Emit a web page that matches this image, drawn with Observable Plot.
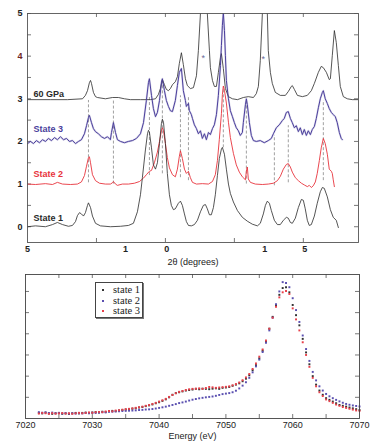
<!DOCTYPE html>
<html>
<head>
<meta charset="utf-8">
<script src="https://cdn.jsdelivr.net/npm/d3@7"></script>
<script src="https://cdn.jsdelivr.net/npm/@observablehq/plot@0.6"></script>
<style>
  html, body { margin: 0; padding: 0; background: #fff; }
  #wrap { position: relative; width: 374px; height: 444px; overflow: hidden; }
  #wrap svg { display: block; }
  #legend { position: absolute; left: 95px; top: 282px; width: 46px; height: 34px;
    border: 1px solid #444; box-shadow: 1px 1px 0 #777; background: #fff;
    font-family: "Liberation Serif", "DejaVu Serif", serif; font-size: 10.5px; line-height: 10.5px; color: #222; }
  #legend .row { position: relative; padding-left: 17px; height: 10.5px; }
  #legend .row:first-child { margin-top: 2px; }
  #legend .sym { position: absolute; left: 6px; top: 4px; width: 2px; height: 2px; }
</style>
</head>
<body>
<div id="wrap"></div>
<script>
// ---------- TOP PANEL: X-ray diffraction (2θ in degrees, offset intensities) ----------
const xTicksTop = [10, 15, 20, 25];
const xTickLabels = [5, 12.1, 15.1, 22.2, 25.1];
const xTickTexts = ["5", "1", "0", "1", "5"];
const yTicksTop = [0, 0.5, 1, 1.5, 2, 2.5, 3, 3.5, 4, 4.5, 5];
const yLabelsTop = [0, 1, 2, 3, 5];
const yLabelRed = [4];

const state1 = [[5.00,0.00],[5.58,0.02],[6.30,0.00],[6.81,0.05],[7.17,0.10],[7.54,0.05],[7.97,0.01],[8.26,0.03],[8.48,0.12],[8.62,0.26],[8.77,0.33],[8.91,0.30],[9.06,0.25],[9.20,0.33],[9.35,0.50],[9.42,0.56],[9.57,0.45],[9.71,0.25],[9.93,0.08],[10.29,0.02],[11.01,0.00],[11.74,0.01],[12.32,0.03],[12.68,0.08],[12.97,0.35],[13.19,0.75],[13.33,1.15],[13.55,1.80],[13.70,2.18],[13.77,2.26],[13.84,2.22],[13.99,1.85],[14.13,1.45],[14.28,1.35],[14.42,1.50],[14.57,1.95],[14.71,2.42],[14.78,2.52],[14.86,2.45],[15.00,1.95],[15.14,1.25],[15.29,0.75],[15.43,0.50],[15.58,0.40],[15.72,0.42],[15.94,0.55],[16.09,0.60],[16.23,0.50],[16.38,0.30],[16.52,0.12],[16.67,0.03],[16.88,0.02],[17.10,0.05],[17.32,0.15],[17.54,0.35],[17.75,0.50],[17.90,0.52],[18.04,0.42],[18.19,0.28],[18.33,0.28],[18.48,0.45],[18.62,0.75],[18.77,1.20],[18.91,1.60],[19.06,1.82],[19.13,1.86],[19.28,1.70],[19.42,1.35],[19.57,1.00],[19.71,0.78],[19.93,0.58],[20.22,0.38],[20.58,0.22],[20.94,0.13],[21.30,0.06],[21.67,0.02],[21.88,0.08],[22.10,0.30],[22.25,0.50],[22.39,0.60],[22.54,0.55],[22.68,0.38],[22.90,0.15],[23.12,0.05],[23.33,0.05],[23.55,0.15],[23.77,0.22],[23.91,0.20],[24.06,0.10],[24.20,0.08],[24.42,0.20],[24.64,0.45],[24.86,0.64],[25.00,0.62],[25.14,0.42],[25.29,0.15],[25.43,0.03],[25.58,0.05],[25.80,0.25],[26.01,0.55],[26.23,0.82],[26.38,0.92],[26.52,0.90],[26.74,0.70],[26.96,0.40],[27.17,0.22],[27.39,0.15],[27.54,-0.02]];

const state2 = [[5.00,1.00],[5.58,0.99],[6.30,1.01],[6.81,0.99],[7.17,1.04],[7.54,1.00],[8.12,0.99],[8.62,1.00],[8.91,1.05],[9.13,1.20],[9.28,1.42],[9.42,1.62],[9.49,1.64],[9.57,1.50],[9.71,1.22],[9.93,1.08],[10.22,1.02],[10.65,1.00],[11.01,1.00],[11.16,1.03],[11.23,1.06],[11.38,1.00],[11.52,0.97],[11.88,1.00],[12.32,1.00],[12.75,1.02],[13.12,1.06],[13.41,1.14],[13.62,1.22],[13.84,1.30],[13.99,1.32],[14.20,1.50],[14.42,1.75],[14.57,2.00],[14.71,2.25],[14.78,2.32],[14.86,2.25],[15.00,1.95],[15.14,1.62],[15.29,1.38],[15.51,1.22],[15.72,1.17],[15.87,1.35],[16.01,1.65],[16.09,1.78],[16.23,1.60],[16.38,1.35],[16.52,1.25],[16.67,1.30],[16.81,1.15],[16.96,1.04],[17.25,1.00],[17.68,1.01],[18.12,1.00],[18.41,1.06],[18.62,1.22],[18.77,1.55],[18.91,2.05],[19.06,2.65],[19.13,3.10],[19.20,3.30],[19.28,3.20],[19.42,2.90],[19.57,2.45],[19.71,2.09],[19.93,1.72],[20.14,1.45],[20.36,1.28],[20.58,1.17],[20.80,1.10],[20.87,1.30],[20.94,1.40],[21.01,1.12],[21.16,1.04],[21.52,1.00],[22.03,0.99],[22.46,1.00],[22.83,1.02],[23.12,1.08],[23.33,1.18],[23.55,1.35],[23.77,1.46],[23.91,1.48],[24.06,1.40],[24.20,1.28],[24.42,1.15],[24.64,1.08],[24.86,1.02],[25.07,0.98],[25.29,0.94],[25.43,0.97],[25.58,0.92],[25.72,0.96],[25.87,1.05],[26.01,1.25],[26.16,1.55],[26.30,1.85],[26.45,2.07],[26.59,1.95],[26.74,1.70],[26.88,1.35],[27.03,1.30],[27.10,1.25],[27.17,1.10],[27.25,0.94]];

const state3 = [[5.00,1.95],[5.22,2.00],[5.43,1.95],[5.65,2.02],[5.87,1.97],[6.09,2.04],[6.30,2.00],[6.52,2.07],[6.74,2.02],[6.96,2.09],[7.17,2.04],[7.39,2.11],[7.61,2.04],[7.83,2.07],[8.04,2.00],[8.26,2.02],[8.48,1.95],[8.70,2.00],[8.91,2.04],[9.13,2.18],[9.28,2.37],[9.42,2.56],[9.49,2.61],[9.64,2.44],[9.78,2.30],[9.93,2.23],[10.14,2.18],[10.36,2.11],[10.58,2.07],[10.80,2.11],[11.01,2.04],[11.09,2.21],[11.23,2.44],[11.38,2.21],[11.52,2.04],[11.74,2.00],[12.03,1.97],[12.32,2.00],[12.61,2.02],[12.90,2.07],[13.19,2.18],[13.41,2.44],[13.62,2.96],[13.77,3.38],[13.84,3.47],[13.99,3.08],[14.13,2.77],[14.28,2.58],[14.42,2.68],[14.57,2.96],[14.71,3.38],[14.78,3.47],[14.93,3.19],[15.07,2.96],[15.22,2.82],[15.36,2.72],[15.51,2.70],[15.72,2.96],[15.87,3.31],[16.01,3.62],[16.16,3.71],[16.30,3.19],[16.45,2.96],[16.52,2.82],[16.67,2.89],[16.74,2.72],[16.88,2.63],[16.96,2.54],[17.10,2.39],[17.25,2.30],[17.39,2.18],[17.54,2.25],[17.68,2.07],[17.83,2.18],[17.97,2.04],[18.12,2.21],[18.26,2.16],[18.41,2.30],[18.55,2.39],[18.70,2.63],[18.84,3.08],[18.99,3.78],[19.06,4.25],[19.13,4.72],[19.20,5.02],[19.28,4.60],[19.35,4.01],[19.42,3.43],[19.57,3.00],[19.71,2.72],[19.86,2.58],[20.00,2.44],[20.14,2.32],[20.29,2.25],[20.43,2.14],[20.58,2.21],[20.65,2.44],[20.80,2.86],[20.87,3.00],[20.94,2.86],[21.09,2.44],[21.23,2.14],[21.38,2.02],[21.59,2.00],[21.88,2.02],[22.17,1.97],[22.46,2.02],[22.68,2.07],[22.83,2.18],[23.04,2.32],[23.26,2.39],[23.48,2.49],[23.62,2.54],[23.77,2.68],[23.91,2.70],[24.06,2.54],[24.20,2.44],[24.35,2.32],[24.49,2.37],[24.64,2.23],[24.78,2.32],[24.93,2.16],[25.07,2.28],[25.22,2.14],[25.36,2.25],[25.51,2.16],[25.65,2.28],[25.80,2.35],[25.94,2.54],[26.09,2.79],[26.23,3.00],[26.38,3.15],[26.45,3.19],[26.59,3.00],[26.74,2.89],[26.88,2.77],[27.03,2.68],[27.17,2.63],[27.32,2.58],[27.46,2.44],[27.61,2.21],[27.75,2.07],[27.83,2.04]];

const gpa60 = [[5.00,2.98],[6.67,2.98],[7.90,2.98],[8.99,3.00],[9.20,3.08],[9.35,3.19],[9.49,3.38],[9.57,3.43],[9.64,3.36],[9.78,3.15],[9.93,3.05],[10.07,3.03],[10.65,3.00],[11.16,3.03],[11.59,3.03],[12.03,3.00],[12.46,2.98],[13.19,2.98],[13.91,2.98],[14.28,3.00],[14.49,3.10],[14.64,3.24],[14.78,3.45],[14.93,3.33],[15.07,3.22],[15.22,3.19],[15.36,3.24],[15.51,3.33],[15.72,3.40],[15.87,3.52],[16.01,3.83],[16.16,4.08],[16.30,3.80],[16.45,3.47],[16.59,3.31],[16.81,3.24],[17.03,3.26],[17.25,3.54],[17.39,4.13],[17.54,5.00],[17.65,6.50],[17.79,8.00],[17.93,6.50],[18.04,5.00],[18.19,4.13],[18.26,3.73],[18.41,3.43],[18.55,3.29],[18.70,3.29],[18.84,3.62],[18.99,3.97],[19.06,4.06],[19.20,3.71],[19.35,3.24],[19.57,3.05],[19.86,3.00],[20.22,2.98],[20.65,3.03],[21.01,3.05],[21.38,3.03],[21.59,3.12],[21.74,3.29],[21.88,3.90],[22.03,5.00],[22.13,6.50],[22.21,8.00],[22.30,6.50],[22.39,5.00],[22.46,4.13],[22.61,3.62],[22.75,3.36],[22.97,3.15],[23.33,3.08],[23.70,3.08],[23.91,3.17],[24.13,3.29],[24.20,3.31],[24.35,3.22],[24.57,3.08],[24.93,3.05],[25.29,3.08],[25.58,3.19],[25.80,3.36],[26.09,3.62],[26.30,3.76],[26.45,3.73],[26.67,3.62],[26.88,3.45],[26.96,3.47],[27.10,4.01],[27.25,4.60],[27.39,4.32],[27.54,3.78],[27.68,3.29],[27.90,3.05],[28.19,3.00],[28.55,2.98],[28.99,2.98]];

const dashX = [9.42, 11.23, 13.84, 14.78, 16.09, 16.67, 19.20, 20.87, 22.90, 23.91, 26.45];
const dashTop = [2.96, 2.96, 3.07, 3.47, 3.07, 3.07, 3.26, 2.96, 2.14, 2.37, 2.96];
const dashBottom = [1.03, 1.00, 1.20, 1.24, 1.15, 1.08, 1.85, 1.00, 0.96, 1.03, 1.08];

const traceNames = ["60 GPa", "State 3", "State 2", "State 1"];
const traceLabelX = [5.43, 5.43, 5.43, 5.43];
const traceLabelY = [3.10, 2.30, 1.24, 0.21];
const traceColors = ["#2a2a2a", "#4b3f9c", "#e8333c", "#2a2a2a"];

const starX = [17.75, 22.10];
const starY = [3.99, 3.97];

// ---------- BOTTOM PANEL: XANES ----------
const energy = [7022,7022.5,7023,7023.5,7024,7024.5,7025,7025.5,7026,7026.5,7027,7027.5,7028,7028.5,7029,7029.5,7030,7030.5,7031,7031.5,7032,7032.5,7033,7033.5,7034,7034.5,7035,7035.5,7036,7036.5,7037,7037.5,7038,7038.5,7039,7039.5,7040,7040.5,7041,7041.5,7042,7042.5,7043,7043.5,7044,7044.5,7045,7045.5,7046,7046.5,7047,7047.5,7048,7048.5,7049,7049.5,7050,7050.5,7051,7051.5,7052,7052.5,7053,7053.5,7054,7054.5,7055,7055.5,7056,7056.5,7057,7057.5,7058,7058.5,7059,7059.5,7060,7060.5,7061,7061.5,7062,7062.5,7063,7063.5,7064,7064.5,7065,7065.5,7066,7066.5,7067,7067.5,7068,7068.5,7069,7069.5,7070];
const xanes1 = [0.065,0.060,0.070,0.060,0.055,0.062,0.066,0.056,0.060,0.054,0.061,0.066,0.060,0.066,0.070,0.064,0.071,0.076,0.070,0.080,0.076,0.086,0.090,0.086,0.096,0.100,0.106,0.110,0.116,0.121,0.130,0.136,0.146,0.155,0.166,0.180,0.192,0.208,0.226,0.250,0.280,0.300,0.310,0.320,0.330,0.336,0.342,0.350,0.345,0.352,0.350,0.346,0.352,0.356,0.350,0.362,0.366,0.372,0.386,0.400,0.415,0.440,0.470,0.510,0.570,0.630,0.710,0.800,0.910,1.060,1.200,1.340,1.460,1.540,1.550,1.490,1.340,1.220,1.100,0.940,0.780,0.640,0.500,0.400,0.330,0.280,0.240,0.220,0.200,0.180,0.160,0.150,0.140,0.130,0.120,0.110,0.100];
const xanes2 = [0.075,0.068,0.072,0.065,0.070,0.062,0.066,0.060,0.064,0.058,0.062,0.058,0.063,0.060,0.066,0.062,0.068,0.065,0.070,0.074,0.072,0.078,0.080,0.084,0.086,0.088,0.090,0.092,0.094,0.096,0.100,0.102,0.106,0.108,0.112,0.118,0.125,0.132,0.140,0.150,0.160,0.170,0.182,0.190,0.200,0.212,0.222,0.230,0.238,0.244,0.250,0.255,0.260,0.268,0.278,0.288,0.294,0.300,0.310,0.328,0.355,0.388,0.428,0.480,0.545,0.615,0.695,0.785,0.895,1.040,1.190,1.350,1.500,1.610,1.600,1.550,1.420,1.280,1.140,0.980,0.820,0.680,0.550,0.450,0.380,0.330,0.290,0.262,0.240,0.220,0.202,0.186,0.172,0.162,0.154,0.148,0.142];
const xanes3 = [0.058,0.066,0.062,0.055,0.063,0.057,0.060,0.064,0.058,0.062,0.056,0.061,0.067,0.062,0.066,0.072,0.068,0.074,0.078,0.075,0.083,0.088,0.085,0.094,0.098,0.104,0.110,0.114,0.120,0.126,0.133,0.140,0.150,0.160,0.172,0.185,0.200,0.215,0.232,0.255,0.278,0.298,0.315,0.325,0.336,0.345,0.350,0.352,0.356,0.350,0.360,0.372,0.368,0.362,0.366,0.370,0.374,0.380,0.392,0.406,0.425,0.452,0.485,0.525,0.585,0.650,0.730,0.815,0.920,1.060,1.190,1.320,1.430,1.490,1.505,1.470,1.300,1.170,1.040,0.900,0.750,0.610,0.480,0.380,0.310,0.265,0.225,0.205,0.185,0.165,0.150,0.135,0.125,0.115,0.105,0.095,0.090];
const xTicksBottomMinor = [7025, 7030, 7035, 7040, 7045, 7050, 7055, 7060, 7065];
const xTicksBottomLabels = [7020, 7030, 7040, 7050, 7060, 7070];
const yTicksBottom = [0.25, 0.5, 0.75, 1.0, 1.25, 1.5];
const legendNames = ["state 1", "state 2", "state 3"];
const legendColors = ["#333333", "#5a4fb0", "#e8404a"];

// ---------- build ----------
const font = "'Liberation Sans', Arial, Helvetica, sans-serif";
const topH = 268, topMT = 13, topMB = 26;
const topInner = topH - topMT - topMB;
const W = 374, topML = 27, topMR = 16;
const topInnerW = W - topML - topMR;

const dashes = dashX.map((x, i) => ({x, y1: dashBottom[i], y2: dashTop[i]}));
const traces = [gpa60, state3, state2, state1];
const traceW = [0.8, 1.0, 0.9, 0.8];

const topPlot = Plot.plot({
  width: W, height: topH,
  marginTop: topMT, marginBottom: topMB, marginLeft: topML, marginRight: topMR,
  x: {domain: [5, 29], axis: null},
  y: {domain: [-0.37, 5], axis: null},
  style: {fontFamily: font, fontSize: "9px", background: "#fff", color: "#222"},
  marks: [
    Plot.tickY(yTicksTop, {y: d => d, insetRight: topInnerW - 4, stroke: "#555", strokeWidth: 0.8}),
    Plot.tickY(yTicksTop, {y: d => d, insetLeft: topInnerW - 4, stroke: "#555", strokeWidth: 0.8}),
    Plot.tickX(xTicksTop, {x: d => d, insetTop: topInner - 4, stroke: "#555", strokeWidth: 0.8}),
    Plot.tickX(xTicksTop, {x: d => d, insetBottom: topInner - 4, stroke: "#555", strokeWidth: 0.8}),
    Plot.axisY(yLabelsTop, {anchor: "left", tickSize: 0, tickPadding: 5, label: null, fontWeight: "bold", fill: "#222"}),
    Plot.axisY(yLabelRed, {anchor: "left", tickSize: 0, tickPadding: 5, label: null, fontWeight: "bold", fill: "#6e2424"}),
    Plot.text(xTickLabels, {x: d => d, text: (d, i) => xTickTexts[i], frameAnchor: "bottom", dy: 9, fontWeight: "bold", fill: "#222"}),
    Plot.text(["2θ (degrees)"], {text: d => d, frameAnchor: "bottom", dy: 22, fill: "#222"}),
    Plot.ruleX(dashes, {x: "x", y1: "y1", y2: "y2", stroke: "#888", strokeWidth: 0.8, strokeDasharray: "3,2"}),
    // faint underlay gives the noisy State 3 trace a slightly fuzzy look
    Plot.line(state3, {x: d => d[0], y: d => d[1], stroke: traceColors[1], strokeWidth: 2, strokeOpacity: 0.2, clip: true}),
    ...traces.map((t, i) => Plot.line(t, {x: d => d[0], y: d => d[1], stroke: traceColors[i], strokeWidth: traceW[i], clip: true})),
    ...traceNames.map((n, i) => Plot.text([n], {x: traceLabelX[i], y: traceLabelY[i], text: d => d, textAnchor: "start", fill: traceColors[i], fontWeight: "bold", fontSize: 9})),
    Plot.text(starX, {x: d => d, y: (d, i) => starY[i], text: () => "*", fill: "#6b6a9a", fontSize: 9, dy: 2}),
    Plot.frame({stroke: "#555", strokeWidth: 0.9})
  ]
});

const botH = 176, botMT = 6, botMB = 26, botML = 25, botMR = 15;
const botInner = botH - botMT - botMB;
const botInnerW = W - botML - botMR;
const pts = (ys) => energy.map((e, i) => ({e, v: ys[i]}));

const botPlot = Plot.plot({
  width: W, height: botH,
  marginTop: botMT, marginBottom: botMB, marginLeft: botML, marginRight: botMR,
  x: {domain: [7020, 7070], axis: null},
  y: {domain: [0, 1.7], axis: null},
  style: {fontFamily: font, fontSize: "9px", background: "#fff", color: "#222"},
  marks: [
    Plot.tickY(yTicksBottom, {y: d => d, insetRight: botInnerW - 4, stroke: "#555", strokeWidth: 0.8}),
    Plot.tickY(yTicksBottom, {y: d => d, insetLeft: botInnerW - 4, stroke: "#555", strokeWidth: 0.8}),
    Plot.tickX(xTicksBottomMinor, {x: d => d, insetTop: botInner - 4, stroke: "#555", strokeWidth: 0.8}),
    Plot.tickX(xTicksBottomMinor, {x: d => d, insetBottom: botInner - 4, stroke: "#555", strokeWidth: 0.8}),
    Plot.axisX(xTicksBottomLabels, {anchor: "bottom", tickSize: 0, tickPadding: 3, label: null, tickFormat: d => String(d), fill: "#222"}),
    Plot.text(["Energy (eV)"], {text: d => d, frameAnchor: "bottom", dy: 20, fill: "#222"}),
    Plot.dot(pts(xanes1), {x: "e", y: "v", r: 1.1, symbol: "square", fill: legendColors[0]}),
    Plot.dot(pts(xanes2), {x: "e", y: "v", r: 1.1, symbol: "square", fill: legendColors[1]}),
    Plot.dot(pts(xanes3), {x: "e", y: "v", r: 1.1, symbol: "square", fill: legendColors[2]}),
    Plot.frame({stroke: "#444", strokeWidth: 0.9})
  ]
});

const wrap = document.getElementById("wrap");
wrap.appendChild(topPlot);
wrap.appendChild(botPlot);

const legend = document.createElement("div");
legend.id = "legend";
legendNames.forEach((n, i) => {
  const row = document.createElement("div");
  row.className = "row";
  const s = document.createElement("span");
  s.className = "sym";
  s.style.background = legendColors[i];
  row.appendChild(s);
  row.appendChild(document.createTextNode(n));
  legend.appendChild(row);
});
wrap.appendChild(legend);
</script>
</body>
</html>
